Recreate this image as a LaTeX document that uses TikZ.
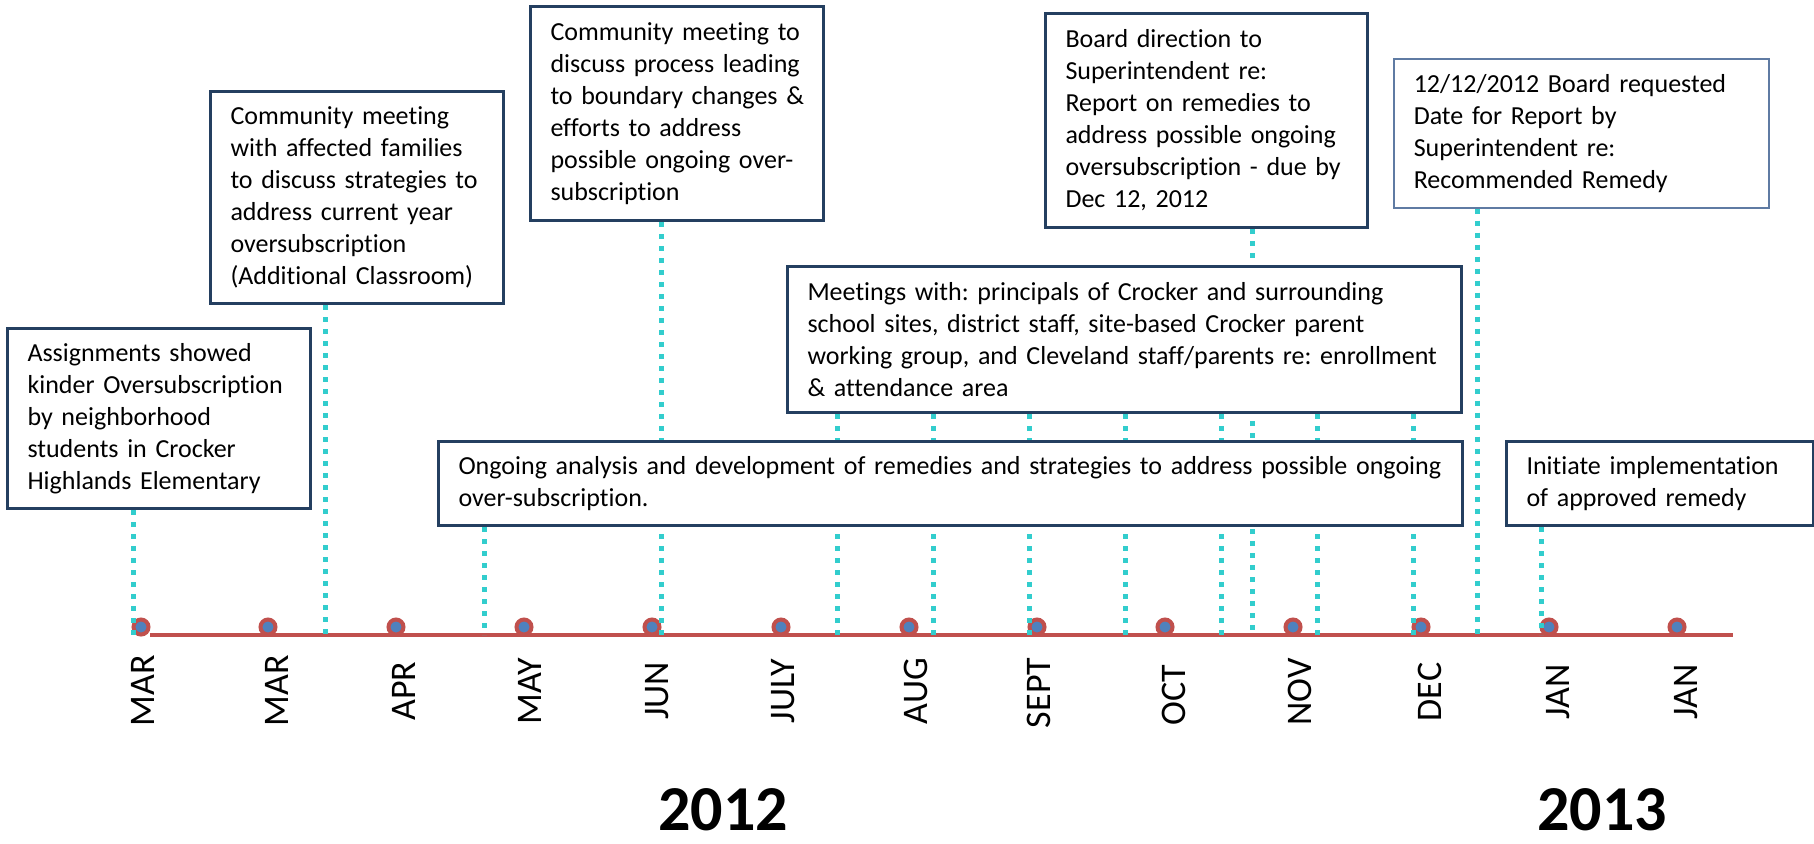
\documentclass[tikz,border=0pt]{standalone}
\usepackage{fontspec}
\setmainfont{Carlito}[Ligatures={NoCommon}]
\usetikzlibrary{calc}
\definecolor{cyanl}{RGB}{50,205,205}
\definecolor{redl}{HTML}{C0504D}
\definecolor{bluedot}{HTML}{4F81BD}
\definecolor{boxc}{HTML}{243F60}
\definecolor{boxlight}{HTML}{5F7BA3}
\pgfdeclarelayer{bg}
\pgfsetlayers{bg,main}
\frenchspacing
\newcommand\tbox[7]{%
  \pgfmathsetlengthmacro\tbW{(#4-#2)*0.5pt}%
  \pgfmathsetlengthmacro\tbH{(#5-#3)*0.5pt}%
  \pgfmathsetlengthmacro\tbT{(#4-#2-40)*0.5pt}%
  \node[tb,#6,anchor=north west,minimum width=\tbW,minimum height=\tbH,text width=\tbT] (#1) at (#2,#3) {#7};}
\begin{document}
\begin{tikzpicture}[x=0.5pt,y=-0.5pt,
  tb/.style={draw=boxc,line width=1.5pt,fill=white,inner ysep=0pt,inner xsep=10pt,align=left,
    font=\frenchspacing\fontsize{13}{16}\selectfont},
  thinbox/.style={draw=boxlight,line width=0.75pt},
  dotl/.style={draw=cyanl,line width=2.5pt,dash pattern=on 2.5pt off 3.5pt},
  tline/.style={draw=redl,line width=2pt},
  mdot/.style={circle,draw=redl,fill=bluedot,line width=2pt,minimum size=7.5pt,inner sep=0pt},
  mon/.style={rotate=90,inner sep=0pt,font=\fontsize{18}{20}\selectfont},
  yr/.style={inner sep=0pt,font=\bfseries\fontsize{32}{36}\selectfont}]
\useasboundingbox (0,0) rectangle (1814,843);

% boxes
\tbox{b1}{6}{327}{309}{507}{}{Assignments showed\\\mbox{kinder Oversubscription}\\by neighborhood\\students in Crocker\\\mbox{Highlands Elementary}}
\tbox{b2}{209}{90}{502}{302}{}{Community meeting\\\mbox{with affected families}\\\mbox{to discuss strategies to}\\address current year\\oversubscription\\\mbox{(Additional Classroom)}}
\tbox{b3}{529}{5}{822}{219}{}{\mbox{Community meeting to}\\\mbox{discuss process leading}\\\mbox{to boundary changes \&}\\efforts to address\\\mbox{possible ongoing over-}\\subscription}
\tbox{b4}{1044}{12}{1366}{226}{}{Board direction to\\Superintendent re:\\\mbox{Report on remedies to}\\\mbox{address possible ongoing}\\\mbox{oversubscription - due by}\\Dec 12, 2012}
\tbox{b5}{1393}{58}{1768}{207}{thinbox}{\mbox{12/12/2012 Board requested}\\Date for Report by\\Superintendent re:\\Recommended Remedy}
\tbox{b6}{786}{265}{1460}{411}{}{\mbox{Meetings with: principals of Crocker and surrounding}\\\mbox{school sites, district staff, site-based Crocker parent}\\\mbox{working group, and Cleveland staff/parents re: enrollment}\\\& attendance area}
\tbox{b7}{437}{440}{1461}{524}{}{\mbox{Ongoing analysis and development of remedies and strategies to address possible ongoing}\\over-subscription.}
\tbox{b8}{1505}{440}{1812}{524}{}{\mbox{Initiate implementation}\\of approved remedy}

% timeline points
\coordinate (ts) at (150,635);
\coordinate (te) at (1733,635);
\foreach \n/\x in {1/133,2/325,3/484,4/661,5/837,6/933,7/1029,8/1125,9/1221,10/1252,11/1317,12/1413,13/1477,14/1541}
  \coordinate (t\n) at (\x,635);

\begin{pgfonlayer}{bg}
\draw[tline] (ts) -- (te);
\foreach \n/\x in {1/141,2/268,3/396,4/524,5/652,6/781,7/909,8/1037,9/1165,10/1293,11/1421,12/1549,13/1677}
  \node[mdot] (d\n) at (\x,627) {};
\draw[dotl] (b1.south -| t1) -- (t1);
\draw[dotl] (b2.south -| t2) -- (t2);
\draw[dotl] (b7.south -| t3) -- (t3);
\draw[dotl] (b3.south -| t4) -- (t4);
\draw[dotl] (b6.south -| t5) -- (t5);
\draw[dotl] (b6.south -| t6) -- (t6);
\draw[dotl] (b6.south -| t7) -- (t7);
\draw[dotl] (b6.south -| t8) -- (t8);
\draw[dotl] (b6.south -| t9) -- (t9);
\draw[dotl] (b4.south -| t10) -- (t10);
\draw[dotl] (b6.south -| t11) -- (t11);
\draw[dotl] (b6.south -| t12) -- (t12);
\draw[dotl] (b5.south -| t13) -- (t13);
\draw[dotl] (b8.south -| t14) -- (t14);
\end{pgfonlayer}

% month labels
\node[mon] (m1) at (143,691) {MAR};
\node[mon] (m2) at (277,691) {MAR};
\node[mon] (m3) at (404,691) {APR};
\node[mon] (m4) at (530,691) {MAY};
\node[mon] (m5) at (657,691) {JUN};
\node[mon] (m6) at (783,691) {JULY};
\node[mon] (m7) at (916,691) {AUG};
\node[mon] (m8) at (1039,693) {SEPT};
\node[mon] (m9) at (1174,695) {OCT};
\node[mon] (m10) at (1300,692) {NOV};
\node[mon] (m11) at (1430,692) {DEC};
\node[mon] (m12) at (1558,692) {JAN};
\node[mon] (m13) at (1686,692) {JAN};

% years
\node[yr] (y1) at (723,810) {2012};
\node[yr] (y2) at (1602,810) {2013};
\end{tikzpicture}
\end{document}
